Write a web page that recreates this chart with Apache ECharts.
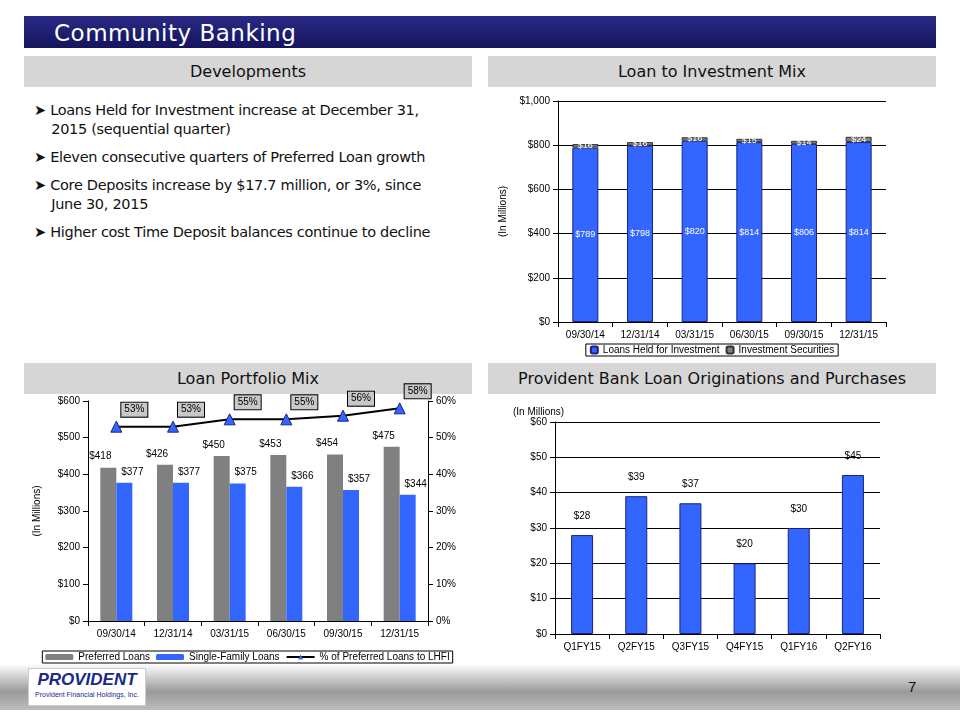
<!DOCTYPE html>
<html><head><meta charset="utf-8">
<script src="https://cdn.jsdelivr.net/npm/echarts@6/dist/echarts.min.js"></script>
<style>
body{margin:0;width:960px;height:720px;background:#fff;font-family:Arial,"Liberation Sans",sans-serif;position:relative;overflow:hidden}
.abs{position:absolute}
.title{left:24px;top:16px;width:912px;height:32px;background:linear-gradient(#2a2a86,#14145e);color:#fff;font-size:23px;line-height:34px;padding-left:30px;box-sizing:border-box;font-family:Tahoma,"DejaVu Sans",sans-serif;letter-spacing:0.5px}
.sec{height:31px;background:#d6d6d6;color:#111;font-size:16px;line-height:31px;text-align:center;font-family:Tahoma,"DejaVu Sans",sans-serif}
.bul{left:34px;top:101px;font-size:14.5px;color:#111;line-height:19px;font-family:"DejaVu Sans",sans-serif;letter-spacing:-0.3px}
.bul p{margin:0 0 9px 0}
.foot{left:0;top:664px;width:960px;height:46px;background:linear-gradient(#ffffff,#9a9a9a 60%,#bdbdbd)}
</style></head><body>
<div class="abs title">Community Banking</div>
<div class="abs sec" style="left:24px;top:56px;width:448px">Developments</div>
<div class="abs sec" style="left:488px;top:56px;width:448px">Loan to Investment Mix</div>
<div class="abs sec" style="left:24px;top:363px;width:448px">Loan Portfolio Mix</div>
<div class="abs sec" style="left:488px;top:363px;width:448px">Provident Bank Loan Originations and Purchases</div>
<div class="abs bul">
<p>&#10148; Loans Held for Investment increase at December 31,<br>&nbsp;&nbsp;&nbsp;&nbsp;2015 (sequential quarter)</p>
<p>&#10148; Eleven consecutive quarters of Preferred Loan growth</p>
<p>&#10148; Core Deposits increase by $17.7 million, or 3%, since<br>&nbsp;&nbsp;&nbsp;&nbsp;June 30, 2015</p>
<p>&#10148; Higher cost Time Deposit balances continue to decline</p>
</div>
<div class="abs foot"></div>
<div class="abs" style="left:28px;top:668px;width:116px;height:36px;background:#fff;border:1px solid #ccc;font-family:Arial;text-align:center">
<div style="color:#1a2a8a;font-weight:bold;font-style:italic;font-size:17px;line-height:22px">PROVIDENT</div>
<div style="color:#1a2a8a;font-size:7px">Provident Financial Holdings, Inc.</div></div>
<div class="abs" style="left:908px;top:678px;font-size:15px;color:#111">7</div>
<div id="c1" class="abs" style="left:488px;top:90px;width:448px;height:270px"></div>
<div id="c2" class="abs" style="left:20px;top:380px;width:455px;height:285px"></div>
<div id="c3" class="abs" style="left:488px;top:396px;width:448px;height:264px"></div>
<script>
const qtrs=['09/30/14','12/31/14','03/31/15','06/30/15','09/30/15','12/31/15'];
const lhfi=[789,798,820,814,806,814];
const invSec=[16,16,16,15,14,24];
const preferred=[418,426,450,453,454,475];
const singleFamily=[377,377,375,366,357,344];
const pctPreferred=[53,53,55,55,56,58];
const fyQtrs=['Q1FY15','Q2FY15','Q3FY15','Q4FY15','Q1FY16','Q2FY16'];
const originations=[28,39,37,20,30,45];

const ax={axisLine:{show:true,lineStyle:{color:'#000'}},axisTick:{show:true,lineStyle:{color:'#000'}},axisLabel:{color:'#000',fontSize:10,fontFamily:'Arial'}};
const blue='#3366ff', dark='#1a237e';

const c1=echarts.init(document.getElementById('c1'));
c1.setOption({animation:false,
 grid:{left:70,right:50,top:11,bottom:38},
 legend:{bottom:4,itemWidth:7,itemHeight:7,itemGap:6,textStyle:{fontSize:10,color:'#000'},borderColor:'#000',borderWidth:1,padding:[1,4],data:['Loans Held for Investment','Investment Securities']},
 xAxis:{type:'category',data:qtrs,...ax},
 yAxis:{type:'value',min:0,max:1000,interval:200,...ax,splitLine:{lineStyle:{color:'#000'}},name:'(In Millions)',nameLocation:'middle',nameGap:48,nameTextStyle:{fontSize:10,color:'#000'},axisLabel:{...ax.axisLabel,formatter:v=>'$'+v.toLocaleString('en-US')}},
 series:[
  {name:'Loans Held for Investment',type:'bar',stack:'a',data:lhfi,barWidth:26,itemStyle:{color:blue,borderColor:dark,borderWidth:1},label:{show:true,position:'inside',color:'#fff',fontSize:9,formatter:p=>'$'+p.value}},
  {name:'Investment Securities',type:'bar',stack:'a',data:invSec,itemStyle:{color:'#808080',borderColor:'#333',borderWidth:1},label:{show:true,position:'inside',color:'#fff',fontSize:9,formatter:p=>'$'+p.value}}
 ]});

const c2=echarts.init(document.getElementById('c2'));
c2.setOption({animation:false,
 grid:{left:68,right:47,top:21,bottom:44},
 legend:{bottom:2,itemWidth:28,itemHeight:6,itemGap:6,textStyle:{fontSize:10,color:'#000'},borderColor:'#000',borderWidth:1,padding:[1,3],data:['Preferred Loans','Single-Family Loans','% of Preferred Loans to LHFI']},
 xAxis:{type:'category',data:qtrs,...ax},
 yAxis:[{type:'value',min:0,max:600,interval:100,...ax,splitLine:{show:false},name:'(In Millions)',nameLocation:'middle',nameGap:46,nameTextStyle:{fontSize:10,color:'#000'},axisLabel:{...ax.axisLabel,formatter:v=>'$'+v}},
  {type:'value',min:0,max:60,interval:10,...ax,splitLine:{show:false},axisLabel:{...ax.axisLabel,formatter:v=>v+'%'}}],
 series:[
  {name:'Preferred Loans',type:'bar',data:preferred,barWidth:16,barGap:'0%',itemStyle:{color:'#808080'},label:{show:true,position:'top',distance:6,offset:[-8,0],color:'#000',fontSize:10,formatter:p=>'$'+p.value}},
  {name:'Single-Family Loans',type:'bar',data:singleFamily,barWidth:16,itemStyle:{color:blue},label:{show:true,position:'top',distance:6,offset:[8,0],color:'#000',fontSize:10,formatter:p=>'$'+p.value}},
  {name:'% of Preferred Loans to LHFI',type:'line',yAxisIndex:1,data:pctPreferred,symbol:'triangle',symbolSize:11,lineStyle:{color:'#000',width:2},itemStyle:{color:blue,borderColor:dark},label:{show:true,position:'top',offset:[18,0],distance:4,backgroundColor:'#c8c8c8',borderColor:'#000',borderWidth:1,padding:[2,3],color:'#000',fontSize:10,formatter:p=>p.value+'%'}}
 ]});

const c3=echarts.init(document.getElementById('c3'));
c3.setOption({animation:false,
 title:{text:'(In Millions)',left:20,top:6,textStyle:{fontSize:10,fontWeight:'normal',color:'#000'}},
 grid:{left:67,right:56,top:26,bottom:26},
 xAxis:{type:'category',data:fyQtrs,...ax},
 yAxis:{type:'value',min:0,max:60,interval:10,...ax,splitLine:{lineStyle:{color:'#000'}},axisLabel:{...ax.axisLabel,formatter:v=>'$'+v}},
 series:[{type:'bar',data:originations,barWidth:22,itemStyle:{color:blue,borderColor:dark,borderWidth:1},label:{show:true,position:'top',distance:14,color:'#000',fontSize:10,formatter:p=>'$'+p.value}}]
});
</script>
</body></html>
